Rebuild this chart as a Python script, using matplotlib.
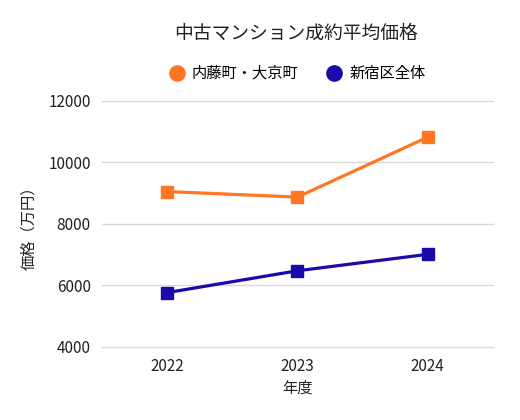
import numpy as np
import matplotlib
matplotlib.use('Agg')
import matplotlib.pyplot as plt
from matplotlib.lines import Line2D

plt.rcParams['font.family'] = ['Noto Sans CJK JP', 'DejaVu Sans']

# データ
years = ['2022', '2023', '2024']
naito = [9050, 8870, 10820]     # 内藤町・大京町
shinjuku = [5765, 6475, 7010]   # 新宿区全体
yticks = [4000, 6000, 8000, 10000, 12000]

orange = '#FF7722'
blue = '#1A0AAA'

fig = plt.figure(figsize=(5.2, 4.2), dpi=100)
ax = fig.add_axes([0.196, 0.174, 0.752, 0.586])

x = np.arange(len(years))
ax.plot(x, naito, color=orange, lw=2.3, marker='s', ms=9, label='内藤町・大京町')
ax.plot(x, shinjuku, color=blue, lw=2.3, marker='s', ms=9, label='新宿区全体')

ax.set_xlim(-0.5, len(years) - 0.5)
ax.set_ylim(4000, 12000)
ax.set_xticks(x)
ax.set_xticklabels(years)
ax.set_yticks(yticks)
ax.tick_params(axis='both', length=0, labelsize=11, colors='#222222', pad=8)
ax.grid(axis='y', color='#d9d9d9', lw=1)
for gl in ax.get_ygridlines():
    gl.set_clip_on(False)
ax.set_axisbelow(True)
for s in ax.spines.values():
    s.set_visible(False)

ax.set_xlabel('年度', fontsize=11, color='#222222', labelpad=3)
ax.set_ylabel('価格（万円）', fontsize=11, color='#222222', labelpad=8)

fig.text(0.57, 0.92, '中古マンション成約平均価格', ha='center', va='center',
         fontsize=13.5, color='#222222')

handles = [Line2D([], [], ls='', marker='o', ms=11, color=orange),
           Line2D([], [], ls='', marker='o', ms=11, color=blue)]
fig.legend(handles, ['内藤町・大京町', '新宿区全体'], loc='center',
           bbox_to_anchor=(0.57, 0.825), ncol=2, frameon=False,
           fontsize=11, handletextpad=0.4, columnspacing=1.7, handlelength=1.2)

fig.savefig('out.png', dpi=100)
